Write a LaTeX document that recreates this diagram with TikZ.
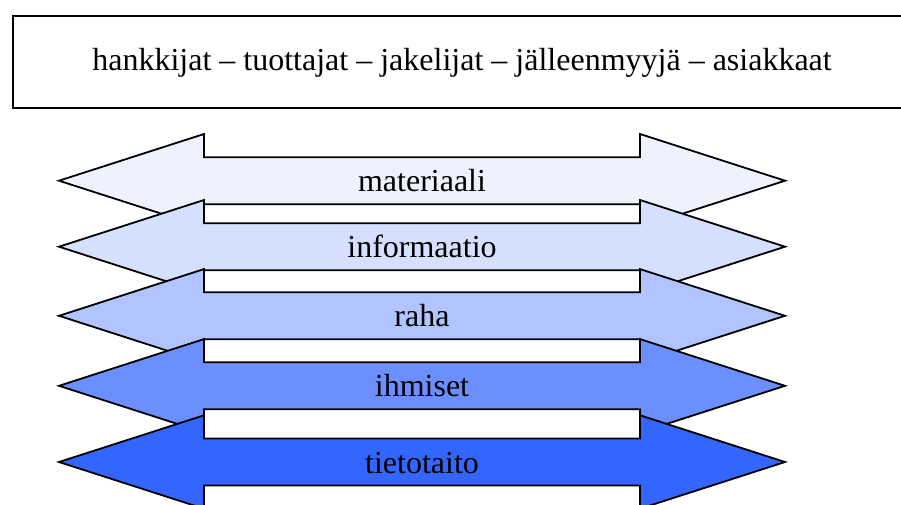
\documentclass[tikz,border=0pt]{standalone}
\usepackage{fontspec}
\setmainfont{Liberation Serif}
\definecolor{cA}{HTML}{EEF2FF}
\definecolor{cB}{HTML}{D5E0FF}
\definecolor{cC}{HTML}{B1C4FF}
\definecolor{cD}{HTML}{6B8FFF}
\definecolor{cE}{HTML}{3366FF}
\tikzset{
  flowarrow/.style={draw=black, line width=1.8pt, line join=miter},
  flowlabel/.style={anchor=base, inner sep=0pt, font=\fontsize{32}{36}\selectfont},
  titlebox/.style={draw=black, line width=2.4pt, anchor=north west, minimum width=906pt, minimum height=91.7pt, inner sep=0pt},
}
\newcommand{\flowarr}[4]{% center y, colour, name, label
  \filldraw[flowarrow, fill=#2] (59,#1) -- (204,#1-46.7) -- (204,#1-23.5) -- (640,#1-23.5) -- (640,#1-46.7) -- (785,#1) -- (640,#1+46.7) -- (640,#1+23.5) -- (204,#1+23.5) -- (204,#1+46.7) -- cycle;
  \node[flowlabel] (#3) at (422,#1+11) {#4};
}
\begin{document}
\begin{tikzpicture}[x=1pt,y=-1pt]
\useasboundingbox (0,0) rectangle (901,504);
\node[titlebox] (box) at (11.7,15) {};
\node[flowlabel] (title) at (462,70.5) {hankkijat – tuottajat – jakelijat – jälleenmyyjä – asiakkaat};
\flowarr{180.7}{cA}{mat}{materiaali}
\flowarr{246.7}{cB}{inf}{informaatio}
\flowarr{315.8}{cC}{rah}{raha}
\flowarr{385.8}{cD}{ihm}{ihmiset}
\flowarr{462}{cE}{tie}{tietotaito}
\end{tikzpicture}
\end{document}
